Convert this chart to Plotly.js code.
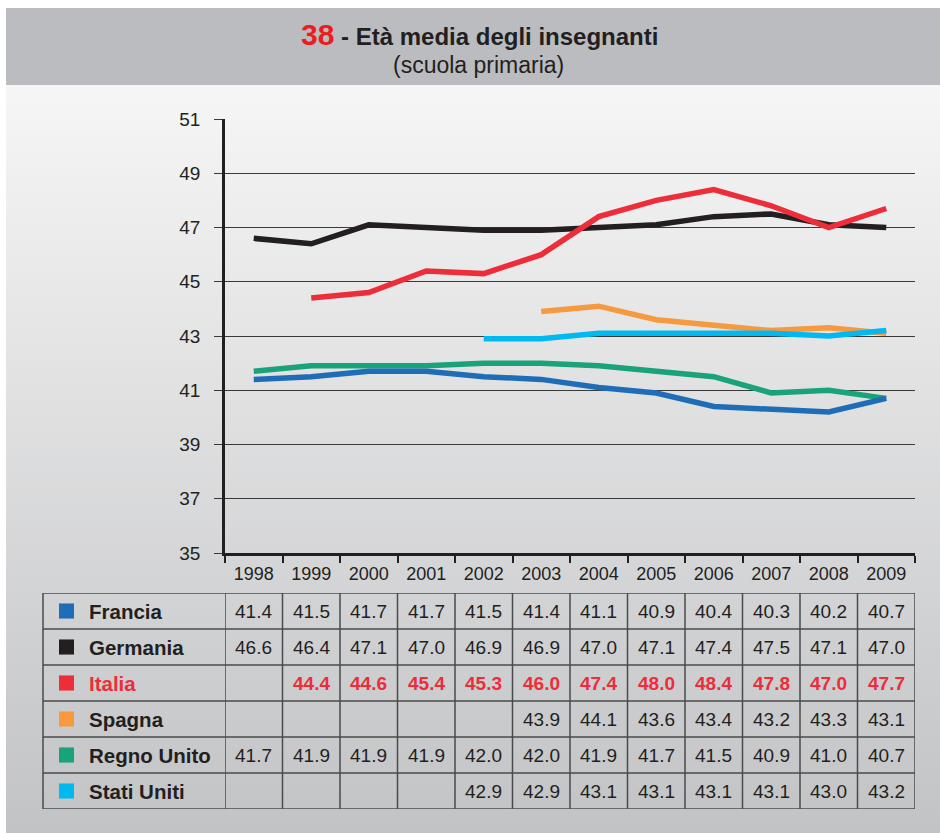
<!DOCTYPE html>
<html>
<head>
<meta charset="utf-8">
<script src="https://cdn.plot.ly/plotly-3.0.1.min.js"></script>
<style>
  html, body { margin: 0; padding: 0; background: #ffffff; }
  #wrap { position: relative; width: 940px; height: 833px; overflow: hidden; }
  #bg { position: absolute; left: 6px; top: 85px; width: 934px; height: 748px;
        background: linear-gradient(#f6f6f6, #c2c3c5); }
  #chart { position: absolute; left: 0; top: 0; width: 940px; height: 833px; }
</style>
</head>
<body>
<div id="wrap">
  <div id="bg"></div>
  <div id="chart"></div>
</div>
<script>
// ---- data ----
const years = ['1998','1999','2000','2001','2002','2003','2004','2005','2006','2007','2008','2009'];
const countries = ['Francia','Germania','Italia','Spagna','Regno Unito','Stati Uniti'];
const colors = ['#1f6db6','#231f20','#ee2d3a','#f7993f','#1aa37a','#00b9f1'];

const francia    = [41.4, 41.5, 41.7, 41.7, 41.5, 41.4, 41.1, 40.9, 40.4, 40.3, 40.2, 40.7];
const germania   = [46.6, 46.4, 47.1, 47.0, 46.9, 46.9, 47.0, 47.1, 47.4, 47.5, 47.1, 47.0];
const italia     = [null, 44.4, 44.6, 45.4, 45.3, 46.0, 47.4, 48.0, 48.4, 47.8, 47.0, 47.7];
const spagna     = [null, null, null, null, null, 43.9, 44.1, 43.6, 43.4, 43.2, 43.3, 43.1];
const regnoUnito = [41.7, 41.9, 41.9, 41.9, 42.0, 42.0, 41.9, 41.7, 41.5, 40.9, 41.0, 40.7];
const statiUniti = [null, null, null, null, 42.9, 42.9, 43.1, 43.1, 43.1, 43.1, 43.0, 43.2];
const series = [francia, germania, italia, spagna, regnoUnito, statiUniti];

const yTicks = [35, 37, 39, 41, 43, 45, 47, 49, 51];

// ---- build ----
const W = 940, H = 833;
const FONT = 'Liberation Sans, Arial, Helvetica, sans-serif';
const INK = '#231f20';
const GRID = '#4a4a4a';

const drawOrder = [4, 0, 3, 5, 1, 2];
const traces = drawOrder.map(i => ({
  type: 'scatter', mode: 'lines', name: countries[i],
  x: years, y: series[i],
  line: { color: colors[i], width: 5.5 },
  connectgaps: false, hoverinfo: 'x+y+name',
  xaxis: 'x', yaxis: 'y'
}));

const shapes = [{
  type: 'rect', xref: 'paper', yref: 'paper', layer: 'below',
  x0: 6 / W, x1: 1, y0: 1 - 85 / H, y1: 1 - 8 / H,
  fillcolor: '#bbbcbf', line: { width: 0 }
}];
const annotations = [
  { xref: 'paper', yref: 'paper', x: 479 / W, y: 1 - 35 / H, showarrow: false,
    xanchor: 'center', yanchor: 'middle',
    text: '<b><span style="color:#ed1c24;font-size:30px">38</span> - Età media degli insegnanti</b>',
    font: { family: FONT, size: 24, color: INK } },
  { xref: 'paper', yref: 'paper', x: 478 / W, y: 1 - 65 / H, showarrow: false,
    xanchor: 'center', yanchor: 'middle',
    text: '(scuola primaria)', font: { family: FONT, size: 23, color: INK } }
];

// table grid: horizontal lines (row boundaries on y2)
for (let r = 0; r <= countries.length; r++) {
  shapes.push({ type: 'line', xref: 'paper', yref: 'y2',
    x0: 43 / W, x1: 915 / W, y0: r - 0.5, y1: r - 0.5,
    line: { color: GRID, width: 1.5 } });
}
// vertical lines: outer left edge and column boundaries on x axis
shapes.push({ type: 'line', xref: 'paper', yref: 'y2',
  x0: 43 / W, x1: 43 / W, y0: -0.5, y1: countries.length - 0.5,
  line: { color: GRID, width: 1.5 } });
for (let k = 0; k <= years.length; k++) {
  shapes.push({ type: 'line', xref: 'x', yref: 'y2',
    x0: k - 0.5, x1: k - 0.5, y0: -0.5, y1: countries.length - 0.5,
    line: { color: GRID, width: 1.5 } });
}
// legend squares + labels + values
countries.forEach((c, i) => {
  shapes.push({ type: 'rect', xref: 'paper', yref: 'y2',
    x0: 59 / W, x1: 74 / W, y0: i - 0.21, y1: i + 0.21,
    fillcolor: colors[i], line: { width: 0 } });
  annotations.push({ xref: 'paper', yref: 'y2', x: 87 / W, y: i,
    xanchor: 'left', yanchor: 'middle', showarrow: false,
    text: '<b>' + c + '</b>',
    font: { family: FONT, size: 20.5, color: i === 2 ? colors[2] : INK } });
  series[i].forEach((v, j) => {
    if (v === null) return;
    annotations.push({ xref: 'x', yref: 'y2', x: j, y: i,
      xanchor: 'center', yanchor: 'middle', showarrow: false,
      text: i === 2 ? '<b>' + v.toFixed(1) + '</b>' : v.toFixed(1),
      font: { family: FONT, size: 19, color: i === 2 ? colors[2] : INK } });
  });
});

const layout = {
  width: W, height: H,
  margin: { l: 0, r: 0, t: 0, b: 0 },
  paper_bgcolor: 'rgba(0,0,0,0)',
  plot_bgcolor: 'rgba(0,0,0,0)',
  showlegend: false,
  font: { family: FONT, color: INK },
  xaxis: {
    type: 'category', domain: [225 / W, 915 / W], range: [-0.5, 11.5],
    tickson: 'boundaries', ticks: 'outside', ticklen: 7, tickwidth: 2, tickcolor: INK,
    showline: true, linecolor: INK, linewidth: 2.5,
    showgrid: false, zeroline: false, automargin: false,
    ticklabelstandoff: 3,
    tickfont: { size: 18, color: INK }
  },
  yaxis: {
    domain: [1 - 553 / H, 1 - 119 / H], range: [35, 51],
    tickvals: yTicks, ticktext: yTicks.map(String),
    ticks: 'outside', ticklen: 8, tickwidth: 1.2, tickcolor: '#3a3a3a',
    showline: true, linecolor: INK, linewidth: 2.5,
    showgrid: true, gridcolor: '#3a3a3a', gridwidth: 1,
    zeroline: false, automargin: false,
    ticklabelstandoff: 10,
    tickfont: { size: 19, color: INK }
  },
  yaxis2: {
    domain: [1 - 809 / H, 1 - 593 / H], range: [countries.length - 0.5, -0.5],
    visible: false, showgrid: false, zeroline: false, fixedrange: true
  },
  shapes: shapes,
  annotations: annotations
};

Plotly.newPlot('chart', traces, layout, { displayModeBar: false, responsive: false });
</script>
</body>
</html>
